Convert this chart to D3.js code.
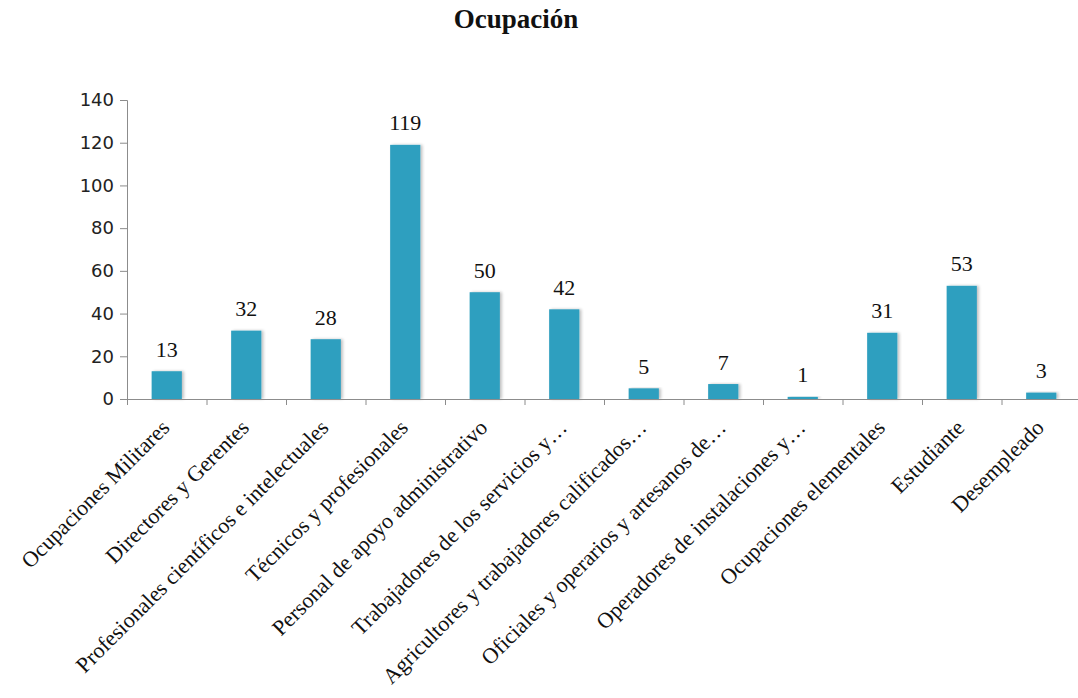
<!DOCTYPE html>
<html>
<head>
<meta charset="utf-8">
<script src="https://cdn.jsdelivr.net/npm/d3@7"></script>
<style>
  html, body { margin: 0; padding: 0; background: #fff; }
  svg { display: block; }
</style>
</head>
<body>
<svg id="chart" width="1078" height="698"></svg>
<script>
// Occupation counts
const chartTitle = "Ocupación";
const categories = [
  "Ocupaciones Militares",
  "Directores y Gerentes",
  "Profesionales científicos e intelectuales",
  "Técnicos y profesionales",
  "Personal de apoyo administrativo",
  "Trabajadores de los servicios y…",
  "Agricultores y trabajadores calificados…",
  "Oficiales y operarios y artesanos de…",
  "Operadores de instalaciones y…",
  "Ocupaciones elementales",
  "Estudiante",
  "Desempleado"
];
const values = [13, 32, 28, 119, 50, 42, 5, 7, 1, 31, 53, 3];
const yTicks = [0, 20, 40, 60, 80, 100, 120, 140];

const svg = d3.select("#chart");
const plotLeft = 127, plotRight = 1081, plotTop = 100, plotBottom = 399;

const x = d3.scaleBand()
  .domain(categories)
  .range([plotLeft, plotRight])
  .paddingInner(0.62)
  .paddingOuter(0.31);

const y = d3.scaleLinear().domain([0, 140]).range([plotBottom, plotTop]);

// soft shadow behind bars
const defs = svg.append("defs");
const f = defs.append("filter").attr("id", "barShadow")
  .attr("x", "-30%").attr("y", "-10%").attr("width", "160%").attr("height", "120%");
f.append("feGaussianBlur").attr("in", "SourceAlpha").attr("stdDeviation", 1.6).attr("result", "b");
f.append("feOffset").attr("in", "b").attr("dx", 2).attr("dy", 0).attr("result", "o");
f.append("feComponentTransfer").attr("in", "o").attr("result", "s")
  .append("feFuncA").attr("type", "linear").attr("slope", 0.25);
const m = f.append("feMerge");
m.append("feMergeNode").attr("in", "s");
m.append("feMergeNode").attr("in", "SourceGraphic");

// title
svg.append("text")
  .attr("x", 516).attr("y", 28)
  .attr("text-anchor", "middle")
  .attr("font-family", "'Liberation Serif', 'Times New Roman', serif")
  .attr("font-weight", "bold")
  .attr("font-size", 27)
  .attr("fill", "#111")
  .text(chartTitle);

// y axis
const yAxis = svg.append("g")
  .attr("transform", `translate(${plotLeft},0)`)
  .call(d3.axisLeft(y).tickValues(yTicks).tickSize(7).tickPadding(6));
yAxis.select(".domain").attr("stroke", "#8c8c8c");
yAxis.selectAll(".tick line").attr("stroke", "#8c8c8c");
yAxis.selectAll(".tick text")
  .attr("font-family", "'DejaVu Sans', Verdana, sans-serif")
  .attr("font-size", 18)
  .attr("fill", "#222");

// bars
svg.append("g").selectAll("rect")
  .data(categories)
  .join("rect")
  .attr("x", d => x(d))
  .attr("y", (d, i) => y(values[i]))
  .attr("width", x.bandwidth())
  .attr("height", (d, i) => y(0) - y(values[i]))
  .attr("fill", "#2e9fbf")
  .attr("filter", "url(#barShadow)");

// x axis line and category boundary ticks
const step = x.step();
const gx = svg.append("g");
gx.append("line")
  .attr("x1", plotLeft).attr("x2", plotRight)
  .attr("y1", plotBottom + 0.5).attr("y2", plotBottom + 0.5)
  .attr("stroke", "#8c8c8c");
gx.selectAll("line.tk")
  .data(d3.range(categories.length + 1))
  .join("line")
  .attr("class", "tk")
  .attr("x1", i => plotLeft + i * step + 0.5)
  .attr("x2", i => plotLeft + i * step + 0.5)
  .attr("y1", plotBottom)
  .attr("y2", plotBottom + 6)
  .attr("stroke", "#8c8c8c");

// value labels
svg.append("g").selectAll("text")
  .data(categories)
  .join("text")
  .attr("x", d => x(d) + x.bandwidth() / 2)
  .attr("y", (d, i) => y(values[i]) - 14.5)
  .attr("text-anchor", "middle")
  .attr("font-family", "'Liberation Serif', 'Times New Roman', serif")
  .attr("font-size", 22)
  .attr("fill", "#111")
  .text((d, i) => values[i]);

// rotated category labels
svg.append("g").selectAll("text")
  .data(categories)
  .join("text")
  .attr("transform", d => `translate(${x(d) + x.bandwidth() / 2 + 4},${plotBottom + 30}) rotate(-45)`)
  .attr("text-anchor", "end")
  .attr("font-family", "'Liberation Serif', 'Times New Roman', serif")
  .attr("font-size", 22)
  .attr("fill", "#111")
  .text(d => d);
</script>
</body>
</html>
